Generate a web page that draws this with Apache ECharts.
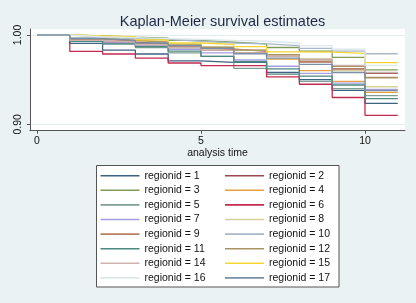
<!DOCTYPE html>
<html>
<head>
<meta charset="utf-8">
<script src="https://cdn.jsdelivr.net/npm/echarts@6/dist/echarts.min.js"></script>
<style>
html,body{margin:0;padding:0;background:#eaf2f3;}
#chart{width:416px;height:303px;}
</style>
</head>
<body>
<div id="chart"></div>
<script>
// analysis times (step points) and survival after each time
const times = [0, 1, 2, 3, 4, 5, 6, 7, 8, 9, 10];
const endTime = 11;
const xTicks = [0, 5, 10];
const yTicks = [0.90, 1.00];

const region1  = [1, 0.9905, 0.983, 0.9787, 0.971, 0.9694, 0.9694, 0.958, 0.950, 0.938, 0.9235];
const region2  = [1, 0.995, 0.992, 0.990, 0.986, 0.984, 0.982, 0.976, 0.970, 0.962, 0.957];
const region3  = [1, 0.999, 0.9975, 0.9965, 0.994, 0.992, 0.990, 0.986, 0.982, 0.975, 0.961];
const region4  = [1, 0.996, 0.994, 0.992, 0.988, 0.985, 0.980, 0.973, 0.960, 0.948, 0.9358];
const region5  = [1, 0.994, 0.990, 0.986, 0.980, 0.976, 0.9627, 0.956, 0.948, 0.940, 0.932];
const region6  = [1, 0.9817, 0.9787, 0.974, 0.9686, 0.9657, 0.9657, 0.953, 0.9448, 0.930, 0.910];
const region7  = [1, 0.995, 0.991, 0.988, 0.984, 0.980, 0.972, 0.965, 0.957, 0.946, 0.939];
const region8  = [1, 0.998, 0.996, 0.994, 0.990, 0.987, 0.983, 0.978, 0.971, 0.960, 0.942];
const region9  = [1, 0.995, 0.993, 0.990, 0.987, 0.983, 0.980, 0.976, 0.970, 0.962, 0.9526];
const region10 = [1, 0.997, 0.996, 0.995, 0.993, 0.991, 0.990, 0.988, 0.985, 0.982, 0.979];
const region11 = [1, 0.993, 0.990, 0.987, 0.982, 0.976, 0.970, 0.962, 0.954, 0.944, 0.9287];
const region12 = [1, 0.996, 0.994, 0.992, 0.989, 0.986, 0.983, 0.978, 0.973, 0.965, 0.952];
const region14 = [1, 0.994, 0.992, 0.989, 0.986, 0.983, 0.980, 0.976, 0.972, 0.966, 0.958];
const region15 = [1, 0.999, 0.998, 0.9945, 0.991, 0.9895, 0.987, 0.981, 0.9807, 0.9795, 0.969];
const region16 = [1, 0.998, 0.997, 0.996, 0.995, 0.994, 0.993, 0.991, 0.988, 0.984, 0.966];
const region17 = [1, 0.996, 0.994, 0.991, 0.988, 0.985, 0.979, 0.974, 0.967, 0.958, 0.9377];

const regionIds = [1, 2, 3, 4, 5, 6, 7, 8, 9, 10, 11, 12, 14, 15, 16, 17];
const regionValues = [region1, region2, region3, region4, region5, region6, region7, region8,
  region9, region10, region11, region12, region14, region15, region16, region17];
const regionColors = ['#3e6282', '#9a4a52', '#7f9c5a', '#e8a040', '#7e9f96', '#c42a50', '#a49fdc', '#d6cf9a',
  '#b88060', '#a8b8c8', '#4a8880', '#a89460', '#cdb3ae', '#f5d630', '#dde8ec', '#7890a8'];

const names = regionIds.map(id => 'regionid = ' + id);
const leftNames = names.filter((n, i) => i % 2 === 0);
const rightNames = names.filter((n, i) => i % 2 === 1);

const FONT = '"Liberation Sans", Arial, sans-serif';
const LINE_ICON = 'path://M0,0H40V1.6H0Z';

const series = regionIds.map((id, i) => {
  const vals = regionValues[i];
  const data = times.map((t, k) => [t, vals[k]]);
  data.push([endTime, vals[vals.length - 1]]);
  return {
    name: names[i],
    type: 'line',
    step: 'end',
    symbol: 'none',
    data: data,
    color: regionColors[i],
    itemStyle: { color: regionColors[i] },
    lineStyle: { width: 1.3, color: regionColors[i] },
    animation: false
  };
});

const legendBase = {
  orient: 'vertical', top: 168.7, padding: 0,
  itemWidth: 39, itemHeight: 14, itemGap: 0.6, selectedMode: false,
  icon: LINE_ICON,
  textStyle: { fontFamily: FONT, fontSize: 10.5, color: '#111', lineHeight: 14 }
};

const chart = echarts.init(document.getElementById('chart'), null, { renderer: 'canvas' });
chart.setOption({
  backgroundColor: '#eaf2f3',
  animation: false,
  title: {
    text: 'Kaplan-Meier survival estimates',
    left: 217.5,
    top: 9,
    textAlign: 'center',
    textStyle: { fontFamily: FONT, fontSize: 14.5, fontWeight: 'normal', color: '#1e2a45' }
  },
  grid: {
    left: 30, right: 11, top: 29, bottom: 172.3,
    show: true, backgroundColor: '#ffffff', borderWidth: 0
  },
  xAxis: {
    type: 'value',
    min: -0.213, max: 11.22,
    name: 'analysis time',
    nameLocation: 'middle',
    nameGap: 17,
    nameTextStyle: { fontFamily: FONT, fontSize: 10.5, color: '#111' },
    axisLine: { show: true, onZero: false, lineStyle: { color: '#555', width: 1 } },
    axisTick: { show: true, length: 3, customValues: xTicks, lineStyle: { color: '#555' } },
    axisLabel: { customValues: xTicks, margin: 5, fontFamily: FONT, fontSize: 10.5, color: '#111' },
    splitLine: { show: false }
  },
  yAxis: {
    type: 'value',
    min: 0.8928, max: 1.0067,
    axisLine: { show: true, onZero: false, lineStyle: { color: '#555', width: 1 } },
    axisTick: { show: true, length: 3, customValues: yTicks, lineStyle: { color: '#555' } },
    axisLabel: {
      customValues: yTicks, rotate: 90, margin: 6,
      formatter: v => v.toFixed(2),
      fontFamily: FONT, fontSize: 10.5, color: '#111'
    },
    splitLine: { show: true, lineStyle: { color: '#e3ecef', width: 1 } }
  },
  graphic: [{
    type: 'rect',
    z: 0,
    shape: { x: 96.5, y: 165.5, width: 242.5, height: 121.5 },
    style: { fill: '#ffffff', stroke: '#555', lineWidth: 1 }
  }],
  legend: [
    Object.assign({}, legendBase, { data: leftNames, left: 100.5 }),
    Object.assign({}, legendBase, { data: rightNames, left: 225 })
  ],
  series: series
});
</script>
</body>
</html>
